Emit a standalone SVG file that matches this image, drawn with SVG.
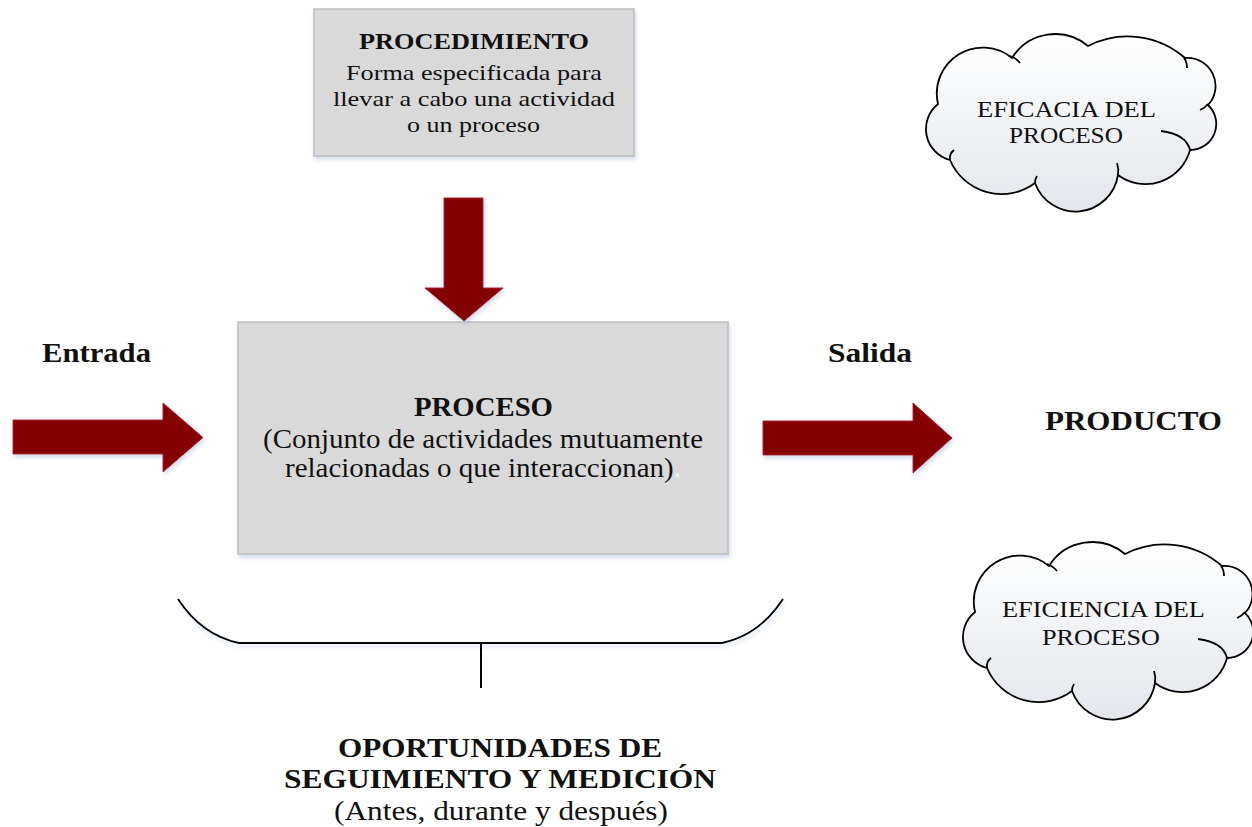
<svg xmlns="http://www.w3.org/2000/svg" xmlns:xlink="http://www.w3.org/1999/xlink" width="1252" height="827" viewBox="0 0 1252 827">
<style>
.box{fill:#d9d9d9;stroke:#bfbfbf;stroke-width:1.5}
.arrow{fill:#840000;stroke:#b3123c;stroke-width:1}
.line{fill:none;stroke:#000;stroke-width:2}
.cloud{fill:url(#cg);stroke:#000;stroke-width:1.8}
.hook{fill:none;stroke:#000;stroke-width:1.8}
text{font-family:"Liberation Serif","Times New Roman",Times,serif;fill:#111}
.b{font-weight:bold}
.mid{text-anchor:middle}
</style>
<defs>
<linearGradient id="cg" x1="0" y1="0" x2="0" y2="1">
<stop offset="0" stop-color="#ffffff"/>
<stop offset="1" stop-color="#e3e6eb"/>
</linearGradient>
<filter id="sh" x="-10%" y="-10%" width="130%" height="130%">
<feDropShadow dx="1.5" dy="3" stdDeviation="2" flood-color="#9db4d6" flood-opacity="0.45"/>
</filter>
<g id="cloudshape">
<path class="cloud" d="M38,84 A46,46 0 0 1 112,38 A51,51 0 0 1 188,26 A87,87 0 0 1 285,38 A28,28 0 0 1 308,85 A26,26 0 0 1 290,130 A46,46 0 0 1 218,155 A43,43 0 0 1 135,163 A56,56 0 0 1 50,140 A32,32 0 0 1 38,84 Z"/>
<path class="hook" d="M110,36 q6,2 10,7"/>
<path class="hook" d="M284,38 q3,4 3,10"/>
<path class="hook" d="M308,84 q-3,4 -8,6"/>
<path class="hook" d="M290,130 Q286,114 261,111"/>
<path class="hook" d="M218,155 q1,-6 -1,-12"/>
<path class="hook" d="M135,163 q0,-4 2,-7"/>
<path class="hook" d="M50,140 q-1,-6 4,-10"/>
</g>
</defs>

<g id="procedimiento">
<rect class="box" x="314" y="9" width="320" height="147" filter="url(#sh)"/>
<text class="b mid" x="474" y="49" font-size="24" textLength="230" lengthAdjust="spacingAndGlyphs">PROCEDIMIENTO</text>
<text class="mid" x="474" y="80" font-size="22" textLength="256" lengthAdjust="spacingAndGlyphs">Forma especificada para</text>
<text class="mid" x="474" y="106" font-size="22" textLength="282" lengthAdjust="spacingAndGlyphs">llevar a cabo una actividad</text>
<text class="mid" x="473.5" y="132" font-size="22" textLength="133" lengthAdjust="spacingAndGlyphs">o un proceso</text>
</g>

<g id="proceso">
<rect class="box" x="238" y="322" width="490" height="232" filter="url(#sh)"/>
<text class="b mid" x="483.5" y="416" font-size="27" textLength="139" lengthAdjust="spacingAndGlyphs">PROCESO</text>
<text class="mid" x="483" y="448" font-size="27" textLength="440" lengthAdjust="spacingAndGlyphs">(Conjunto de actividades mutuamente</text>
<text class="mid" x="483" y="477" font-size="27" textLength="396" lengthAdjust="spacingAndGlyphs">relacionadas o que interaccionan)<tspan fill="#f2f2f2">.</tspan></text>
</g>

<g id="entrada">
<text class="b" x="42" y="362" font-size="27" textLength="109" lengthAdjust="spacingAndGlyphs">Entrada</text>
</g>
<g id="salida">
<text class="b" x="828" y="362" font-size="27" textLength="84" lengthAdjust="spacingAndGlyphs">Salida</text>
</g>
<g id="producto">
<text class="b" x="1045" y="430" font-size="27" textLength="177" lengthAdjust="spacingAndGlyphs">PRODUCTO</text>
</g>

<g id="eficacia">
<use xlink:href="#cloudshape" href="#cloudshape" transform="translate(900,20)"/>
<text class="mid" x="1066.5" y="117" font-size="23" textLength="179" lengthAdjust="spacingAndGlyphs">EFICACIA DEL</text>
<text class="mid" x="1066" y="143" font-size="23" textLength="114" lengthAdjust="spacingAndGlyphs">PROCESO</text>
</g>

<g id="eficiencia">
<use xlink:href="#cloudshape" href="#cloudshape" transform="translate(937,528)"/>
<text class="mid" x="1103.5" y="617" font-size="23" textLength="203" lengthAdjust="spacingAndGlyphs">EFICIENCIA DEL</text>
<text class="mid" x="1101" y="645" font-size="23" textLength="118" lengthAdjust="spacingAndGlyphs">PROCESO</text>
</g>

<g id="oportunidades">
<text class="b mid" x="500" y="757" font-size="28" textLength="324" lengthAdjust="spacingAndGlyphs">OPORTUNIDADES DE</text>
<text class="b mid" x="500" y="788" font-size="28" textLength="432" lengthAdjust="spacingAndGlyphs">SEGUIMIENTO Y MEDICIÓN</text>
<text class="mid" x="501" y="820" font-size="27" textLength="334" lengthAdjust="spacingAndGlyphs">(Antes, durante y después)</text>
</g>

<g id="connectors">
<polygon class="arrow" filter="url(#sh)" points="13,420 163,420 163,403 203,437.5 163,472 163,454 13,454"/>
<polygon class="arrow" filter="url(#sh)" points="763,421 913,421 913,403 952,438 913,473 913,455 763,455"/>
<polygon class="arrow" filter="url(#sh)" points="444,198 483,198 483,288 503,288 464,321 425,288 444,288"/>
<path class="line" filter="url(#sh)" d="M178,599 C195,625 215,638 239,643 L722,643 C746,638 766,625 783,599"/>
<path class="line" d="M481,643 L481,688"/>
</g>
</svg>
